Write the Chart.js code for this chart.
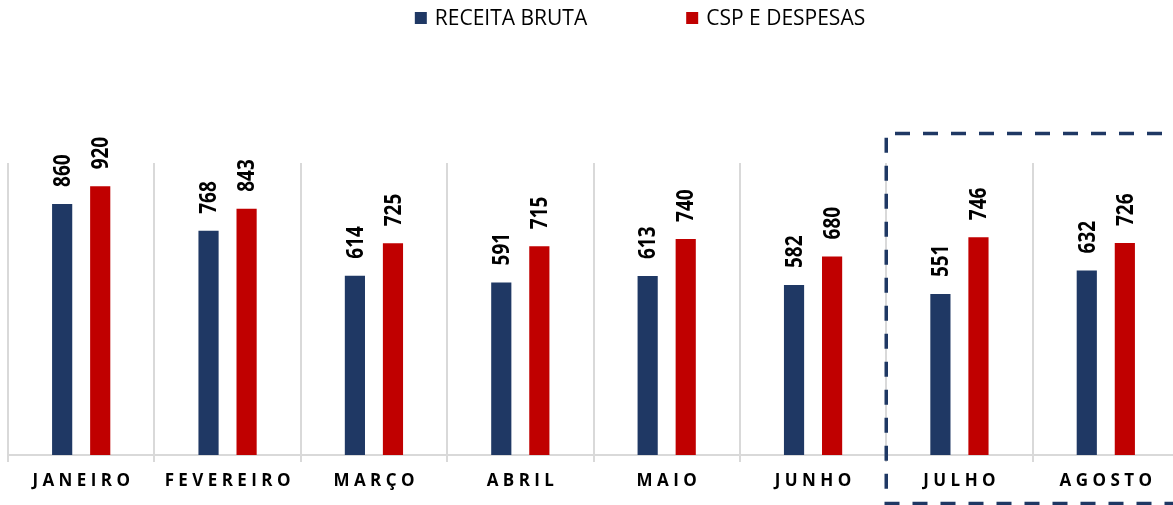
<!DOCTYPE html>
<html>
<head>
<meta charset="utf-8">
<script src="https://cdn.jsdelivr.net/npm/chart.js@4.4.1/dist/chart.umd.min.js"></script>
<style>
  html, body { margin: 0; padding: 0; background: #fff; overflow: hidden; }
  .Container { width: 1173px; height: 505px; overflow: hidden; }
  .Wrap { width: 1180px; height: 505px; }
  canvas { display: block; }
</style>
</head>
<body>
<div class="Container"><div class="Wrap"><canvas id="chart"></canvas></div></div>
<script>
const months = ['JANEIRO', 'FEVEREIRO', 'MARÇO', 'ABRIL', 'MAIO', 'JUNHO', 'JULHO', 'AGOSTO'];
const receitaBruta = [860, 768, 614, 591, 613, 582, 551, 632];
const cspDespesas = [920, 843, 725, 715, 740, 680, 746, 726];
const seriesNames = ['RECEITA BRUTA', 'CSP E DESPESAS'];
const highlightFrom = 'JULHO';

const BLUE = '#1F3864';
const RED = '#C00000';

// value labels, rotated, above each bar
const barValueLabels = {
  id: 'barValueLabels',
  afterDatasetsDraw(chart) {
    const ctx = chart.ctx;
    ctx.save();
    ctx.font = 'bold 19px "Open Sans"';
    ctx.fillStyle = '#000';
    ctx.textAlign = 'left';
    ctx.textBaseline = 'middle';
    chart.data.datasets.forEach((ds, di) => {
      chart.getDatasetMeta(di).data.forEach((bar, i) => {
        ctx.save();
        ctx.translate(bar.x + 1, bar.y - 17);
        ctx.rotate(-Math.PI / 2);
        ctx.scale(1, 1.25);
        ctx.fillText(ds.data[i], 0, 0);
        ctx.restore();
      });
    });
    ctx.restore();
  }
};

// legend drawn by hand so the gap between the two items can be wide
const topLegend = {
  id: 'topLegend',
  afterDraw(chart) {
    const ctx = chart.ctx;
    ctx.save();
    ctx.font = '21px "Open Sans"';
    ctx.textBaseline = 'middle';
    const items = chart.data.datasets.map(ds => ({
      text: ds.label,
      color: ds.backgroundColor,
      w: ctx.measureText(ds.label).width
    }));
    const box = 12, gap = 8, spacing = 99;
    const total = items.reduce((s, it) => s + box + gap + it.w, 0) + spacing * (items.length - 1);
    let x = 640 - total / 2;
    const y = 18;
    items.forEach(it => {
      ctx.fillStyle = it.color;
      ctx.fillRect(x, y - 6, box, box);
      ctx.fillStyle = '#000';
      ctx.fillText(it.text, x + box + gap, y + 1);
      x += box + gap + it.w + spacing;
    });
    ctx.restore();
  }
};

// dashed frame around the last months
const highlightBox = {
  id: 'highlightBox',
  afterDraw(chart) {
    const xs = chart.scales.x;
    const i = months.indexOf(highlightFrom);
    const half = (xs.getPixelForValue(1) - xs.getPixelForValue(0)) / 2;
    const left = xs.getPixelForValue(i) - half;
    const top = chart.chartArea.top - 29.5;
    const bottom = chart.height - 1.5;
    const ctx = chart.ctx;
    ctx.save();
    ctx.strokeStyle = BLUE;
    ctx.lineWidth = 3.5;
    ctx.setLineDash([15, 13]);
    ctx.beginPath();
    ctx.moveTo(chart.width + 10, top);
    ctx.lineTo(left, top);
    ctx.lineTo(left, bottom);
    ctx.lineTo(chart.width + 10, bottom);
    ctx.stroke();
    ctx.restore();
  }
};

const ctx = document.getElementById('chart').getContext('2d');
new Chart(ctx, {
  type: 'bar',
  data: {
    labels: months,
    datasets: [
      { label: seriesNames[0], data: receitaBruta, backgroundColor: BLUE, categoryPercentage: 0.52, barPercentage: 0.53 },
      { label: seriesNames[1], data: cspDespesas, backgroundColor: RED, categoryPercentage: 0.52, barPercentage: 0.53 }
    ]
  },
  options: {
    responsive: true,
    maintainAspectRatio: false,
    animation: false,
    layout: { padding: { top: 163, left: 8, right: 1, bottom: 0 } },
    scales: {
      x: {
        grid: { color: '#D9D9D9', lineWidth: 2, offset: true, drawTicks: true, tickLength: 7 },
        border: { color: '#D9D9D9', width: 2 },
        ticks: {
          color: '#000',
          font: { family: '"Open Sans"', size: 17, weight: 'bold' },
          padding: 9,
          maxRotation: 0,
          autoSkip: false,
          callback(v) { return this.getLabelForValue(v).split('').join(' '); }
        },
        afterFit(scale) { scale.height = 50; }
      },
      y: {
        display: false,
        min: 0,
        max: 1000
      }
    },
    plugins: {
      legend: { display: false },
      tooltip: { enabled: false }
    }
  },
  plugins: [barValueLabels, topLegend, highlightBox]
});
</script>
</body>
</html>
